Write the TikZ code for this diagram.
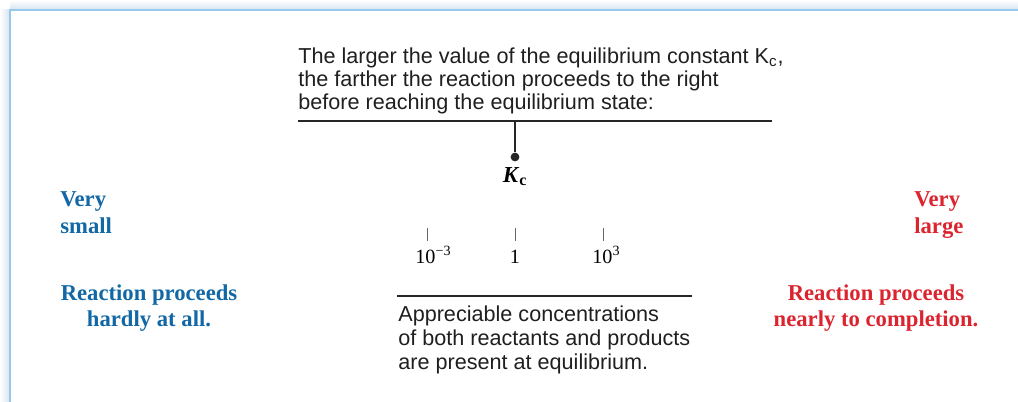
\documentclass[tikz,border=0pt]{standalone}
\usepackage{fontspec}
\setmainfont{Liberation Serif}
\setsansfont{Liberation Sans}
\usetikzlibrary{positioning}

\definecolor{smallblue}{RGB}{18,104,164}
\definecolor{largered}{RGB}{219,36,46}
\definecolor{frameblue}{RGB}{152,200,236}
\definecolor{frameshade}{RGB}{214,226,240}

\begin{document}
\begin{tikzpicture}[x=0.02cm,y=-0.02cm]
    \tikzset{note/.style = {font=\sffamily\fontsize{12.3}{13.2}\selectfont, align=left, inner sep=0pt, text=black!88}}
    \tikzset{scaleword/.style = {font=\bfseries\fontsize{12.9}{15.3}\selectfont, inner sep=0pt}}
    \tikzset{ticklabel/.style = {font=\fontsize{11.5}{13}\selectfont, inner sep=0pt, anchor=base west}}
    \tikzset{rule/.style = {line width=0.6pt, black!85}}
    \tikzset{tick/.style = {line width=0.3pt, black!60}}
    \useasboundingbox (0,0) rectangle (1018,402);
    % frame with soft shadow
    \shade[top color=white, bottom color=frameshade] (10,0) rectangle (1018,10);
    \shade[left color=white, right color=frameshade] (0,10) rectangle (10,402);
    \draw[frameblue, line width=1.2pt] (10,402) -- (10,10) -- (1018,10);
    % note above the scale
    \node[note, anchor=north west] (topnote) at (298,47)
        {The larger the value of the equilibrium constant K\textsubscript{c},\\
         the farther the reaction proceeds to the right\\
         before reaching the equilibrium state:};
    \coordinate (topL) at (298,121);
    \coordinate (topR) at (772,121);
    \coordinate (topmid) at (515,121);
    \draw[rule] (topL) -- (topR);
    \node[circle, fill=black!85, inner sep=0pt, minimum size=5pt] (kdot) at (515,157) {};
    \draw[rule] (topmid) -- (kdot);
    \node[font=\bfseries\fontsize{13}{15}\selectfont, inner sep=0pt, anchor=base] (kc) at (515,182)
        {\textit{K}\textsubscript{c}};
    % ends of the scale
    \node[scaleword, smallblue, align=left, anchor=north west] (vsmall) at (60,191) {Very\\small};
    \node[scaleword, largered, align=left, anchor=north west] (vlarge) at (914,191) {Very\\large};
    \node[scaleword, smallblue, align=center, anchor=north] (hardly) at (149,284)
        {Reaction proceeds\\hardly at all.};
    \node[scaleword, largered, align=center, anchor=north] (complete) at (876,284)
        {Reaction proceeds\\nearly to completion.};
    % ticks
    \foreach \x/\name in {427/tlo, 515/tone, 603/thi} {
        \coordinate (\name top) at (\x,228);
        \coordinate (\name bot) at (\x,241);
        \draw[tick] (\name top) -- (\name bot);
    }
    \node[ticklabel] (llo) at (415,263) {10\textsuperscript{−3}};
    \node[ticklabel, anchor=base] (lone) at (515,263) {1};
    \node[ticklabel] (lhi) at (592,263) {10\textsuperscript{3}};
    % note below the scale
    \coordinate (botL) at (397,296);
    \coordinate (botR) at (692,296);
    \draw[rule] (botL) -- (botR);
    \node[note, anchor=north west, font=\sffamily\fontsize{12.3}{13.9}\selectfont] (botnote) at (398,305)
        {Appreciable concentrations\\
         of both reactants and products\\
         are present at equilibrium.};
\end{tikzpicture}
\end{document}
